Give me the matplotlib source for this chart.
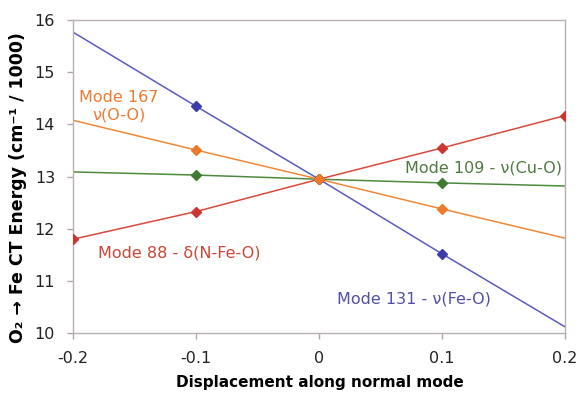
import matplotlib.pyplot as plt

# displacement positions along the normal mode
disp = [-0.2, -0.1, 0.0, 0.1, 0.2]

# CT energies (cm^-1 / 1000) along each mode, end to end
mode131 = [15.77, 14.35, 12.95, 11.52, 10.12]
mode167 = [14.08, 13.51, 12.95, 12.38, 11.82]
mode109 = [13.09, 13.03, 12.95, 12.88, 12.82]
mode88 = [11.80, 12.33, 12.95, 13.55, 14.17]

# which points carry a diamond marker
marks131 = [False, True, True, True, False]
marks167 = [False, True, True, True, False]
marks109 = [False, True, True, True, False]
marks88 = [True, True, True, True, True]

xticks = [-0.2, -0.1, 0, 0.1, 0.2]
xtick_labels = ["-0.2", "-0.1", "0", "0.1", "0.2"]
yticks = [10, 11, 12, 13, 14, 15, 16]

fig = plt.figure(figsize=(5.8, 3.96), dpi=100)
ax = fig.add_axes([0.126, 0.159, 0.848, 0.790])


def draw_mode(y, marks, line_color, mark_color):
    ax.plot(disp, y, color=line_color, lw=1.1, zorder=2)
    xs = [d for d, m in zip(disp, marks) if m]
    ys = [v for v, m in zip(y, marks) if m]
    ax.plot(xs, ys, ls="none", marker="D", ms=5, color=mark_color, zorder=3)


draw_mode(mode131, marks131, "#5a5ac0", "#3c3ca8")
draw_mode(mode109, marks109, "#4f8a3c", "#3f7a30")
draw_mode(mode88, marks88, "#d84a3c", "#cc3530")
draw_mode(mode167, marks167, "#f0883a", "#ec7a28")

lab = dict(fontsize=11.5, va="center")
ax.text(-0.163, 14.35, "Mode 167\nν(O-O)", color="#ec7a30", ha="center",
        linespacing=1.15, **lab)
ax.text(0.070, 13.16, "Mode 109 - ν(Cu-O)", color="#4f7a40", ha="left", **lab)
ax.text(-0.180, 11.53, "Mode 88 - δ(N-Fe-O)", color="#cc4535", ha="left", **lab)
ax.text(0.015, 10.66, "Mode 131 - ν(Fe-O)", color="#5050a8", ha="left", **lab)

ax.set_xlim(-0.2, 0.2)
ax.set_ylim(10, 16)
ax.set_xticks(xticks)
ax.set_xticklabels(xtick_labels)
ax.set_yticks(yticks)
ax.tick_params(colors="#b0a8a8", labelcolor="#222222", labelsize=11.5,
               length=4, width=1)
ax.tick_params(axis="x", pad=9)
ax.tick_params(axis="y", pad=9)
for s in ax.spines.values():
    s.set_color("#b8b0b0")
    s.set_linewidth(1)

fig.text(320 / 580, 1 - 383 / 396, "Displacement along normal mode",
         fontsize=11, fontweight="bold", ha="center", va="center")
fig.text(18 / 580, 1 - 188 / 396, "O₂ → Fe CT Energy (cm⁻¹ / 1000)",
         fontsize=12.5, fontweight="bold", ha="center", va="center",
         rotation=90)

fig.savefig("out.png", dpi=100, facecolor="white")
